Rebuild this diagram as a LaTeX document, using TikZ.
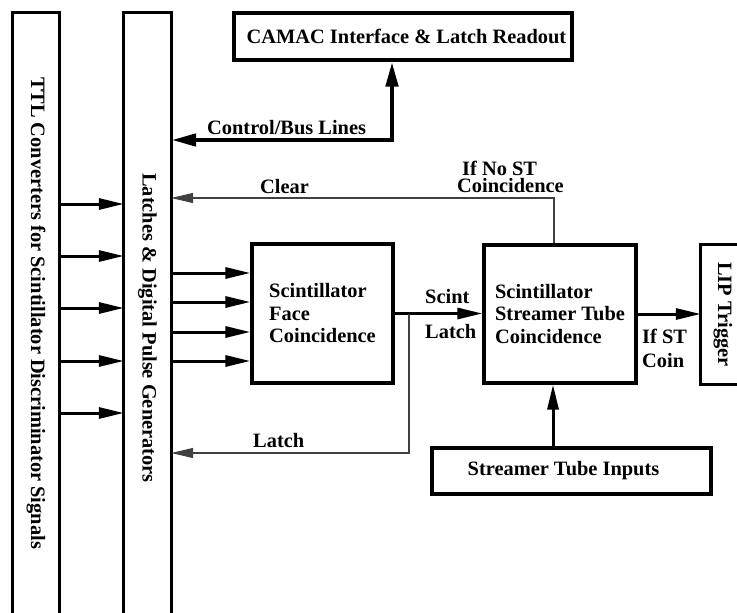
\documentclass[tikz,border=0pt]{standalone}
\usepackage{fontspec}
\setmainfont{Liberation Serif}
\usepackage{graphicx}
\usetikzlibrary{arrows.meta}
\begin{document}
\begin{tikzpicture}[x=1pt,y=-1pt,
  every node/.style={font=\fontsize{20.4}{22.5}\selectfont\bfseries, inner sep=0pt},
  box/.style={draw, line width=3.2pt, align=left},
  openbox/.style={draw=none},
  edge/.style={line width=3.2pt},
  arr/.style={line width=3pt, -{Triangle[length=25pt,width=11pt]}},
  busarr/.style={line width=4.5pt, {Triangle[length=25pt,width=12pt]}-{Triangle[length=25pt,width=12pt]}},
  thinarr/.style={line width=1.3pt, black!75, -{Triangle[length=22pt,width=10pt]}},
  lbl/.style={anchor=base west}
]
\useasboundingbox (0,0) rectangle (737,613);
\fill[white] (0,0) rectangle (737,613);

% open vertical boxes
\node[openbox, minimum width=46pt, minimum height=600pt] (ttl) at (36,313)
  {\rotatebox{-90}{TTL Converters for Scintillator Discriminator Signals}};
\node[openbox, minimum width=47pt, minimum height=600pt] (lat) at (147.5,313)
  {\rotatebox{-90}{\hspace*{30pt}Latches \& Digital Pulse Generators}};
\draw[edge] (ttl.south west) -- (ttl.north west) -- (ttl.north east) -- (ttl.south east);
\draw[edge] (lat.south west) -- (lat.north west) -- (lat.north east) -- (lat.south east);

% boxes
\node[box, minimum width=338pt, minimum height=47pt] (camac) at (403,36.5)
  {\hspace*{7pt}CAMAC Interface \& Latch Readout};
\node[box, minimum width=141pt, minimum height=139pt] (face) at (322.5,313.5)
  {Scintillator\\Face\\Coincidence};
\node[box, minimum width=152pt, minimum height=138pt] (stc) at (560,314)
  {Scintillator\\Streamer Tube\\Coincidence};
\node[box, minimum width=279pt, minimum height=46pt] (sti) at (571.5,471)
  {Streamer Tube Inputs\hspace*{16pt}};
\node[openbox, minimum width=44pt, minimum height=139pt] (lip) at (723,314.5)
  {\rotatebox{-90}{LIP Trigger}};
\coordinate (edgeR) at (737,0);
\draw[edge] (lip.north west -| edgeR) -- (lip.north west) -- (lip.south west) -- (lip.south west -| edgeR);

% TTL -> Latches
\foreach \y in {204,256,308,361,413}
  \draw[arr] (ttl.east |- 0,\y) -- (lat.west |- 0,\y);
% Latches -> Face
\foreach \y in {273,302,332,361}
  \draw[arr] (lat.east |- 0,\y) -- (face.west |- 0,\y);

% Control/Bus lines
\coordinate (busc) at (392,140);
\draw[busarr] (lat.east |- busc) -- (busc) -- (camac.south -| busc);
\node[lbl] (buslbl) at (207,134) {Control/Bus Lines};

% Clear
\coordinate (clr) at (554,198);
\draw[thinarr] (stc.north -| clr) -- (clr) -- (lat.east |- clr);
\node[lbl] (clrlbl) at (260,193) {Clear};
\node[lbl] (nst1) at (462,175) {If No ST};
\node[lbl] (nst2) at (457,192) {Coincidence};

% Scint latch
\draw[arr] (face.east) -- (stc.west |- face.east);
\node[lbl] (sl1) at (425,303) {Scint};
\node[lbl] (sl2) at (425,338) {Latch};
\coordinate (br) at (409,313.5);
\coordinate (brd) at (409,453);
\draw[thinarr] (br) -- (brd) -- (lat.east |- brd);
\node[lbl] (latlbl) at (253,447) {Latch};

% ST -> LIP
\draw[arr] (stc.east) -- (lip.west |- stc.east);
\node[lbl] (ifst1) at (642,343) {If ST};
\node[lbl] (ifst2) at (642,367) {Coin};

% Inputs -> ST
\coordinate (inx) at (553,0);
\draw[arr] (sti.north -| inx) -- (stc.south -| inx);
\end{tikzpicture}
\end{document}
